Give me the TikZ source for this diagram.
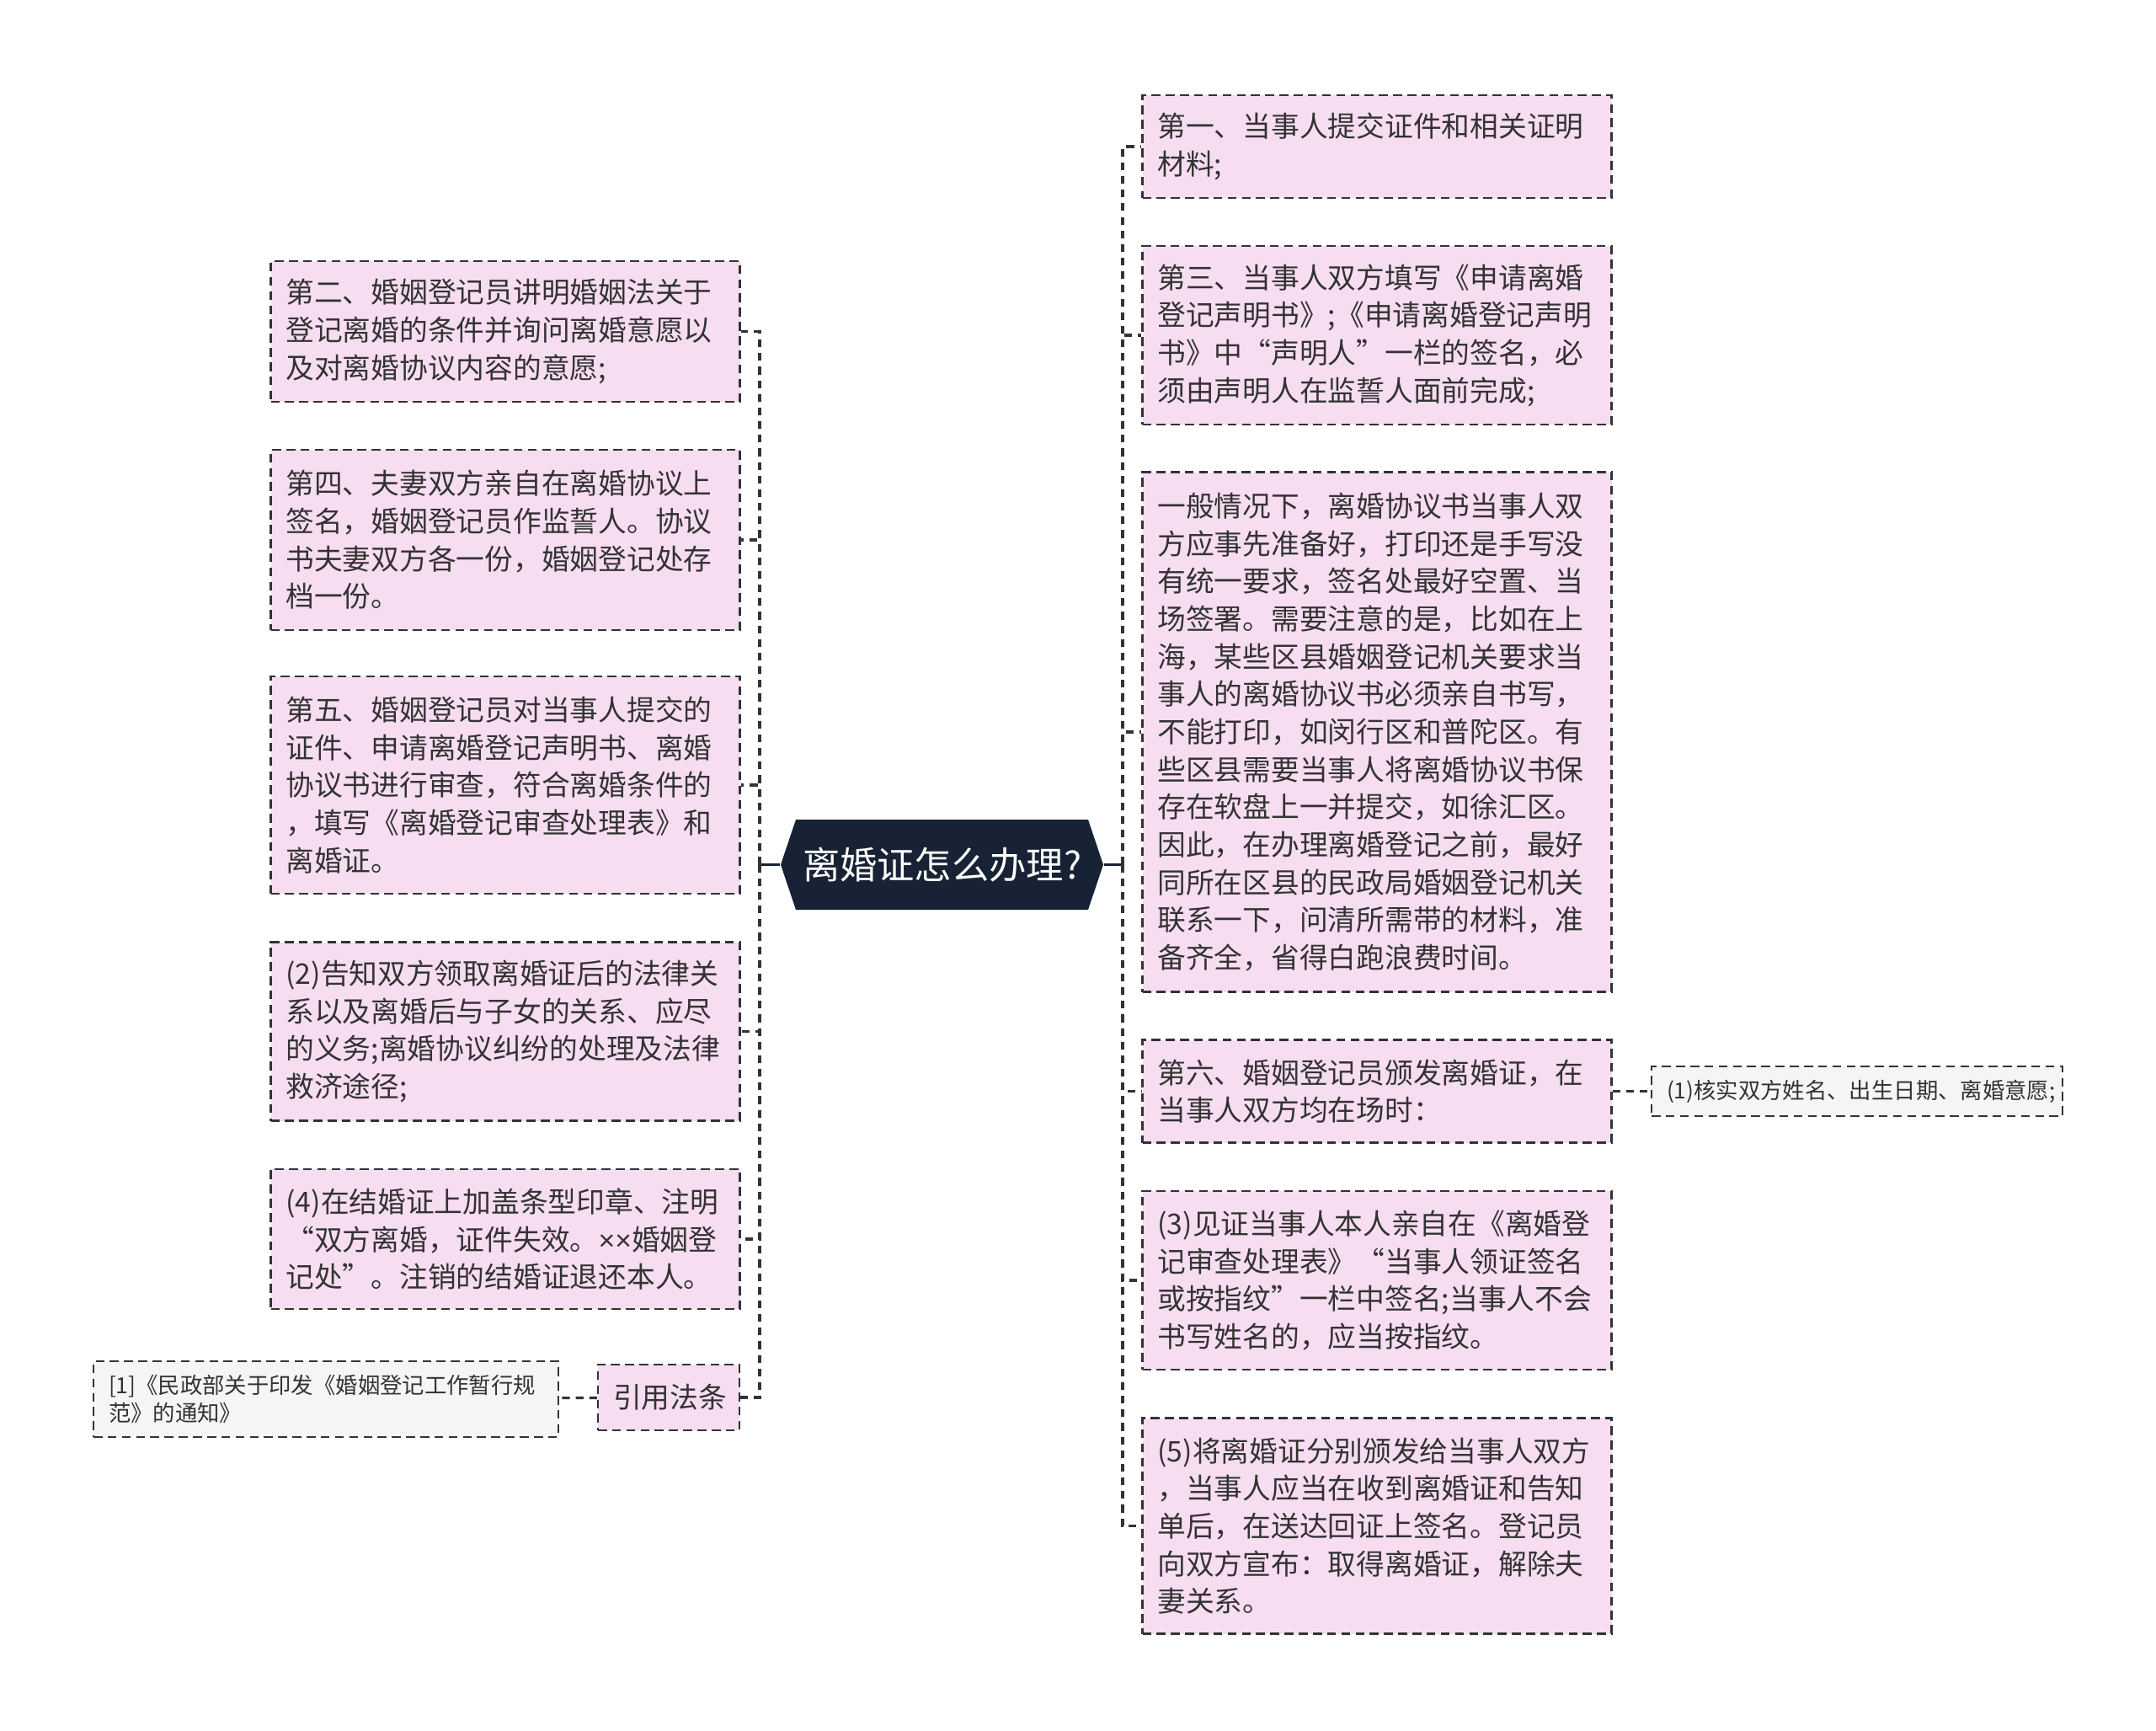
\documentclass[tikz,border=0pt]{standalone}
\usepackage{fontspec}
\setmainfont{Noto Sans CJK SC}
\newfontfamily\latinfont{Liberation Sans}
\usepackage{tikz}

\definecolor{inkgray}{HTML}{333333}
\definecolor{boxpink}{HTML}{F7DDF1}
\definecolor{boxgray}{HTML}{F5F5F5}
\definecolor{rootnavy}{HTML}{172234}

\begin{document}
\begin{tikzpicture}
    \useasboundingbox (0,0) rectangle (25.6,-20.54);

    % the question in the middle
    \node[text=white, font=\fontsize{12.6}{15}\selectfont, inner sep=0pt,
        minimum width=3.83cm, minimum height=1.07cm,
        path picture={\fill[rootnavy] (path picture bounding box.west)
          -- ([xshift=0.18cm]path picture bounding box.north west)
          -- ([xshift=-0.18cm]path picture bounding box.north east)
          -- (path picture bounding box.east)
          -- ([xshift=-0.18cm]path picture bounding box.south east)
          -- ([xshift=0.18cm]path picture bounding box.south west) -- cycle;}]
        (root) at (11.185,-10.265) {离婚证怎么办理?};

    \coordinate (lbus) at (9.02,-10.265);
    \coordinate (rbus) at (13.33,-10.265);

    \begin{scope}[every node/.style={draw=inkgray, line width=0.6pt,
        dash pattern=on 3pt off 1.8pt, fill=boxpink, text=inkgray,
        font=\fontsize{9.6}{12.7}\selectfont, align=left,
        inner xsep=0.18cm, inner ysep=0pt, text width=5.21cm}]
      % left side
      \node[minimum height=1.665cm] (l1) at (6.00,-3.935) {第二、婚姻登记员讲明婚姻法关于\\登记离婚的条件并询问离婚意愿以\\及对离婚协议内容的意愿;};
      \node[minimum height=2.14cm] (l2) at (6.00,-6.41) {第四、夫妻双方亲自在离婚协议上\\签名，婚姻登记员作监誓人。协议\\书夫妻双方各一份，婚姻登记处存\\档一份。};
      \node[minimum height=2.58cm] (l3) at (6.00,-9.32) {第五、婚姻登记员对当事人提交的\\证件、申请离婚登记声明书、离婚\\协议书进行审查，符合离婚条件的\\，填写《离婚登记审查处理表》和\\离婚证。};
      \node[minimum height=2.12cm] (l4) at (6.00,-12.245) {(2)告知双方领取离婚证后的法律关\\系以及离婚后与子女的关系、应尽\\的义务;离婚协议纠纷的处理及法律\\救济途径;};
      \node[minimum height=1.665cm] (l5) at (6.00,-14.71) {(4)在结婚证上加盖条型印章、注明\\“双方离婚，证件失效。{\latinfont ××}婚姻登\\记处”。注销的结婚证退还本人。};
      \node[text width=1.32cm, minimum height=0.78cm] (cite) at (7.94,-16.59) {引用法条};
      \node[fill=boxgray, text width=5.16cm, minimum height=0.90cm,
          font=\fontsize{7.5}{9.3}\selectfont] (ref) at (3.87,-16.61) {[1]《民政部关于印发《婚姻登记工作暂行规\\范》的通知》};

      % right side
      \node[minimum height=1.22cm] (r1) at (16.35,-1.74) {第一、当事人提交证件和相关证明\\材料;};
      \node[minimum height=2.12cm] (r2) at (16.35,-3.98) {第三、当事人双方填写《申请离婚\\登记声明书》;《申请离婚登记声明\\书》中“声明人”一栏的签名，必\\须由声明人在监誓人面前完成;};
      \node[minimum height=6.17cm] (r3) at (16.35,-8.69) {一般情况下，离婚协议书当事人双\\方应事先准备好，打印还是手写没\\有统一要求，签名处最好空置、当\\场签署。需要注意的是，比如在上\\海，某些区县婚姻登记机关要求当\\事人的离婚协议书必须亲自书写，\\不能打印，如闵行区和普陀区。有\\些区县需要当事人将离婚协议书保\\存在软盘上一并提交，如徐汇区。\\因此，在办理离婚登记之前，最好\\同所在区县的民政局婚姻登记机关\\联系一下，问清所需带的材料，准\\备齐全，省得白跑浪费时间。};
      \node[minimum height=1.22cm] (r4) at (16.35,-12.955) {第六、婚姻登记员颁发离婚证，在\\当事人双方均在场时：};
      \node[fill=boxgray, text width=4.52cm, minimum height=0.59cm,
          font=\fontsize{7.5}{9.3}\selectfont] (r5) at (22.05,-12.955) {(1)核实双方姓名、出生日期、离婚意愿;};
      \node[minimum height=2.12cm] (r6) at (16.35,-15.20) {(3)见证当事人本人亲自在《离婚登\\记审查处理表》“当事人领证签名\\或按指纹”一栏中签名;当事人不会\\书写姓名的，应当按指纹。};
      \node[minimum height=2.56cm] (r7) at (16.35,-18.115) {(5)将离婚证分别颁发给当事人双方\\，当事人应当在收到离婚证和告知\\单后，在送达回证上签名。登记员\\向双方宣布：取得离婚证，解除夫\\妻关系。};
    \end{scope}

    \draw[rootnavy, line width=0.9pt] (root.west) -- (lbus);
    \draw[rootnavy, line width=0.9pt] (root.east) -- (rbus);

    \begin{scope}[every edge/.style={draw=inkgray, line width=0.9pt,
        dash pattern=on 2.6pt off 2pt, to path={|- (\tikztotarget)}}]
      \path (lbus) edge (l1.east) edge (l2.east) edge (l3.east)
                   edge (l4.east) edge (l5.east) edge (cite.east);
      \path (rbus) edge (r1.west) edge (r2.west) edge (r3.west)
                   edge (r4.west) edge (r6.west) edge (r7.west);
      \path (cite) edge[to path={-- (\tikztotarget)}] (ref);
      \path (r4) edge[to path={-- (\tikztotarget)}] (r5);
    \end{scope}
\end{tikzpicture}
\end{document}
